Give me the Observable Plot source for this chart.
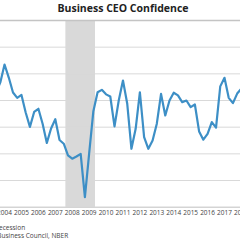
<!DOCTYPE html>
<html><head><meta charset="utf-8">
<script src="https://cdn.jsdelivr.net/npm/d3@7"></script>
<script src="https://cdn.jsdelivr.net/npm/@observablehq/plot@0.6"></script>
<style>
html,body{margin:0;padding:0;background:#fff;}
#wrap{position:relative;width:240px;height:240px;overflow:hidden;font-family:"Open Sans",sans-serif;}
#title{position:absolute;top:1px;left:0;width:246px;text-align:center;font-weight:bold;font-size:10.5px;line-height:14px;color:#222;white-space:nowrap;}
#chart{position:absolute;left:-40px;top:0;width:306px;height:221px;}
#chart svg{max-width:none !important;}
#legend{position:absolute;left:-5px;top:223px;font-size:6.5px;line-height:9px;color:#444;white-space:nowrap;}
#source{position:absolute;left:-27px;top:231px;font-size:6.5px;line-height:9px;color:#444;white-space:nowrap;}
</style></head>
<body>
<div id="wrap">
  <div id="title">Business CEO Confidence</div>
  <div id="chart"></div>
  <div id="legend">Recession</div>
  <div id="source">Source: Business Council, NBER</div>
</div>
<script>
const quarters = [
  "2003Q3","2003Q4",
  "2004Q1","2004Q2","2004Q3","2004Q4",
  "2005Q1","2005Q2","2005Q3","2005Q4",
  "2006Q1","2006Q2","2006Q3","2006Q4",
  "2007Q1","2007Q2","2007Q3","2007Q4",
  "2008Q1","2008Q2","2008Q3","2008Q4",
  "2009Q1","2009Q2","2009Q3","2009Q4",
  "2010Q1","2010Q2","2010Q3","2010Q4",
  "2011Q1","2011Q2","2011Q3","2011Q4",
  "2012Q1","2012Q2","2012Q3","2012Q4",
  "2013Q1","2013Q2","2013Q3","2013Q4",
  "2014Q1","2014Q2","2014Q3","2014Q4",
  "2015Q1","2015Q2","2015Q3","2015Q4",
  "2016Q1","2016Q2","2016Q3","2016Q4",
  "2017Q1","2017Q2","2017Q3","2017Q4",
  "2018Q1"
];
const confidence = [
  43.0, 46.8,
  53.5, 48.6, 43.0, 41.0,
  42.1, 35.5, 30.1, 35.7,
  36.9, 31.3, 24.1, 29.5,
  33.0, 25.2, 23.8, 19.4,
  18.2, 19.0, 20.0, 3.8,
  20.1, 36.0, 43.1, 44.0,
  42.3, 41.5, 30.3, 40.0,
  47.5, 38.9, 21.9, 29.4,
  43.1, 26.3, 21.9, 25.0,
  31.3, 42.5, 34.4, 40.0,
  42.9, 41.9, 39.4, 40.0,
  37.5, 38.5, 28.4, 25.3,
  27.5, 31.9, 29.8, 45.3,
  48.5, 41.0, 39.0, 42.6,
  44.5
];
const yearLabels = [2004,2005,2006,2007,2008,2009,2010,2011,2012,2013,2014,2015,2016,2017,2018];
const gridValues = [10,20,30,40,50,60];
const topValue = 70;
const recessionStart = "2007Q4";
const recessionEnd = "2009Q2";

// quarter -> fractional year (start of quarter)
const qStart = q => +q.slice(0,4) + (+q.slice(5) - 1) / 4;
const qCenter = q => qStart(q) + 0.125;

const series = quarters.map((q, i) => ({t: qCenter(q), v: confidence[i]}));
const recession = [{x1: qStart(recessionStart), x2: qStart(recessionEnd) + 0.25}];

const chart = Plot.plot({
  width: 305.72,
  height: 221,
  marginLeft: 25,
  marginRight: 10,
  marginTop: 20,
  marginBottom: 14.3,
  style: {fontFamily: "Open Sans, sans-serif", fontSize: "6.5px", color: "#555", background: "transparent", maxWidth: "none"},
  x: {domain: [2003, 2019], label: null},
  y: {domain: [0, 70], label: null, axis: null},
  marks: [
    Plot.rect(recession, {x1: "x1", x2: "x2", fill: "#d9d9d9"}),
    Plot.gridY(gridValues, {stroke: "#d9d9d9", strokeOpacity: 1}),
    Plot.ruleY([topValue], {stroke: "#c4c4c4", strokeWidth: 1.3}),
    Plot.ruleY([0], {stroke: "#bfbfbf"}),
    Plot.axisX(yearLabels.map(y => y + 0.125), {tickSize: 0, tickPadding: 3, tickFormat: d => String(Math.floor(d)), fill: "#444"}),
    Plot.line(series, {x: "t", y: "v", stroke: "#3d8fc6", strokeWidth: 2.2, strokeLinejoin: "round"})
  ]
});
document.getElementById("chart").appendChild(chart);
</script>
</body></html>
